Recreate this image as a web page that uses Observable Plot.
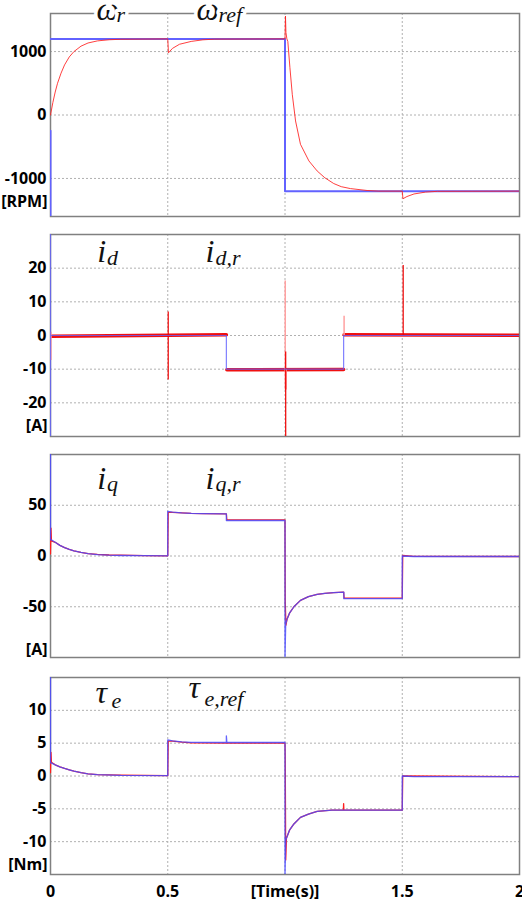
<!DOCTYPE html>
<html>
<head>
<meta charset="utf-8">
<script src="https://cdn.jsdelivr.net/npm/d3@7"></script>
<script src="https://cdn.jsdelivr.net/npm/@observablehq/plot@0.6"></script>
<style>
  html, body { margin: 0; padding: 0; background: #fff; overflow: hidden; }
  #chart { position: relative; width: 522px; height: 904px; }
  #chart > div { position: absolute; left: 0; }
</style>
</head>
<body>
<div id="chart"></div>
<script>
// ---------- Panel 1: speed [RPM] ----------
const timeWRef = [0, 0, 0, 0, 1, 1, 2];
const wRef     = [-1600, -250, null, 1200, 1200, -1200, -1200];
const timeWr = [0, 0.01, 0.02, 0.03, 0.045, 0.06, 0.08, 0.1, 0.13, 0.16, 0.2, 0.25, 0.3, 0.5, 0.503, 0.52, 0.55, 0.6, 0.65, 0.7,
                1.0, 1.002, 1.004, 1.008, 1.012, 1.021, 1.031, 1.045, 1.066, 1.102, 1.137, 1.17, 1.208, 1.24, 1.279, 1.35, 1.4, 1.5, 1.503, 1.52,
                1.55, 1.6, 1.65, 2];
const wr     = [0, 196, 362, 500, 660, 790, 915, 1000, 1085, 1135, 1168, 1186, 1194, 1200, 980, 1050, 1115, 1160, 1185, 1196,
                1200, 1560, 1300, 1200, 1160, 745, 326, -94, -462, -724, -882, -990, -1081, -1130, -1160, -1190, -1200, -1200, -1320, -1285,
                -1245, -1215, -1203, -1200];
const ticksW = [-1000, 0, 1000];

// ---------- Panel 2: i_d [A] ----------
const timeIdRef = [0, 0, 0, 0, 0.75, 0.75, 1.25, 1.25, 2];
const idRef     = [-30, 30, null, 0, 0, -10, -10, 0, 0];
const timeId = [0.004, 0.5, 0.75, 0.75, 0.752, 1.25, 1.25, 1.252, 2];
const id     = [-0.2, 0.1, 0.2, null, -10.2, -10.1, null, 0.2, 0.1];
const idRedSpikeT  = [0.502, 1.003, 1.504];
const idRedSpikeLo = [-13.2, -30, 0];
const idRedSpikeHi = [7, -4.9, 20.8];
const idPinkSpikeT  = [0.002, 1.001, 1.005, 1.252];
const idPinkSpikeLo = [-7.4, -16.2, -16.2, 0];
const idPinkSpikeHi = [1, 16.2, -10.2, 5.7];
const ticksId = [-20, -10, 0, 10, 20];

// ---------- Panel 3: i_q [A] ----------
const timeIqRef = [0, 0, 0.003, 0.02, 0.04, 0.06, 0.08, 0.1, 0.13, 0.16, 0.2, 0.25, 0.3, 0.4, 0.5, 0.5, 0.52, 0.56, 0.6, 0.65,
                   0.75, 0.75, 1.0, 1.0, 1.003, 1.009, 1.02, 1.038, 1.066, 1.1, 1.137, 1.17, 1.208, 1.251, 1.251, 1.5, 1.5, 1.55, 2];
const iqRef     = [100, 16, 16, 13.5, 10.5, 8.3, 6.6, 5.1, 3.5, 2.3, 1.4, 0.8, 0.5, 0.3, 0.2, 44, 43.3, 42.5, 42, 41.8,
                   41.6, 35, 35, -100, -67, -62, -56, -50, -43.7, -40, -37.8, -36.8, -36.1, -35.5, -42, -42, 0, -0.5, -0.5];
const timeIq = [0, 0.002, 0.004, 0.02, 0.04, 0.06, 0.08, 0.1, 0.13, 0.16, 0.2, 0.25, 0.3, 0.4, 0.5, 0.502, 0.52, 0.56, 0.6, 0.65,
                0.75, 0.752, 1.0, 1.001, 1.004, 1.009, 1.02, 1.038, 1.066, 1.1, 1.137, 1.17, 1.208, 1.25, 1.252, 1.5, 1.502, 1.55, 2];
const iq     = [2, 27.5, 15, 13.5, 10.5, 8.3, 6.6, 5.1, 3.5, 2.3, 1.6, 1.0, 0.9, 0.4, 0.2, 43, 43, 42.5, 42, 41.8,
                41.6, 35.5, 35.5, -45, -68, -62, -56, -50, -43.7, -40, -37.8, -36.8, -36.1, -35.5, -41.5, -41.5, 0.5, -0.3, -0.5];
const ticksIq = [-50, 0, 50];

// ---------- Panel 4: torque [Nm] ----------
const timeTeRef = [0, 0, 0.003, 0.02, 0.04, 0.06, 0.08, 0.1, 0.13, 0.16, 0.2, 0.3, 0.5, 0.5, 0.52, 0.56, 0.6, 0.75, 0.75, 0.752,
                   1.0, 1.0, 1.003, 1.02, 1.038, 1.066, 1.1, 1.137, 1.2, 1.5, 1.5, 1.55, 2];
const teRef     = [15, 2, 2, 1.7, 1.4, 1.15, 0.95, 0.75, 0.5, 0.33, 0.2, 0.08, 0.05, 5.5, 5.35, 5.2, 5.12, 5.1, 6.1, 5.1,
                   5.1, -15, -9.8, -8.2, -7.3, -6.3, -5.8, -5.4, -5.2, -5.2, 0, -0.1, -0.1];
const timeTe = [0, 0.002, 0.004, 0.02, 0.04, 0.06, 0.08, 0.1, 0.13, 0.16, 0.2, 0.3, 0.5, 0.502, 0.52, 0.56, 0.6, 0.75, 1.0, 1.001,
                1.003, 1.006, 1.02, 1.038, 1.066, 1.1, 1.137, 1.2, 1.249, 1.25, 1.251, 1.5, 1.502, 2];
const te     = [0.5, 3.6, 2.1, 1.7, 1.4, 1.15, 0.95, 0.75, 0.5, 0.33, 0.22, 0.12, 0.05, 5.3, 5.3, 5.15, 5.05, 5.0, 5.0, 3,
                -12.8, -9.5, -8.2, -7.3, -6.3, -5.8, -5.4, -5.2, -5.2, -4.2, -5.2, -5.2, 0, -0.1];
const ticksTe = [-10, -5, 0, 5, 10];

// ---------- shared x ----------
const timeTicks = [0, 0.5, 1, 1.5, 2];
const timeTickLabels = ["0", "0.5", "[Time(s)]", "1.5", "2"];
const gridTimes = [0.5, 1, 1.5];

const RED = "#ff1f1f";
const PINK = "#ffa0a0";
const BLUE = "#6262ff";
const FONT = "'Open Sans', sans-serif";
const MATH = "'Liberation Serif', 'Times New Roman', serif";

const pts = (t, v) => t.map((x, i) => ({t: x, v: v[i]}));
const spikes = (t, lo, hi) => t.map((x, i) => ({t: x, lo: lo[i], hi: hi[i]}));

function label(text, size, dx, dy, halo) {
  return Plot.text([text], {
    frameAnchor: "top-left", textAnchor: "start", lineAnchor: "bottom",
    dx, dy, fontFamily: MATH, fontStyle: "italic", fontWeight: "normal", fontSize: size, fill: "#111",
    ...(halo ? {stroke: "white", strokeWidth: 7} : {})
  });
}

function panel({top, height, mt, mb, domain, ticks, unit, unitDy, marks, labels, xAxis}) {
  const plot = Plot.plot({
    width: 522, height,
    marginLeft: 50, marginRight: 3, marginTop: mt, marginBottom: mb,
    style: {fontFamily: FONT, fontSize: "16px", color: "#000", background: "transparent"},
    x: {domain: [0, 2], label: null},
    y: {domain, label: null},
    marks: [
      Plot.gridX(gridTimes, {stroke: "#b0b0b0", strokeOpacity: 1, strokeDasharray: "2,2"}),
      Plot.gridY(ticks, {stroke: "#b0b0b0", strokeOpacity: 1, strokeDasharray: "2,2"}),
      Plot.frame({stroke: "#808080", strokeWidth: 1.5}),
      Plot.axisY(ticks, {tickSize: 0, tickPadding: 4, tickFormat: d => String(d), label: null, fontWeight: "bold", fontSize: 16, fill: "#000"}),
      xAxis
        ? Plot.axisX(timeTicks, {tickSize: 0, tickPadding: 11, tickFormat: (d, i) => timeTickLabels[i], label: null, fontWeight: "bold", fontSize: 16, fill: "#000"})
        : Plot.axisX([], {label: null}),
      Plot.text([unit], {frameAnchor: "bottom-left", textAnchor: "end", lineAnchor: "middle", dx: -3, dy: unitDy, fontWeight: "bold", fontSize: 16, fill: "#000"}),
      ...marks,
      ...labels
    ]
  });
  const wrap = document.createElement("div");
  wrap.style.top = top + "px";
  wrap.appendChild(plot);
  document.getElementById("chart").appendChild(wrap);
}

// Panel 1
panel({
  top: 0, height: 220, mt: 13, mb: 4, domain: [-1600, 1600], ticks: ticksW, unit: "[RPM]", unitDy: -14.3,
  marks: [
    Plot.line(pts(timeWRef, wRef), {x: "t", y: "v", stroke: BLUE, strokeWidth: 2, clip: true}),
    Plot.line(pts(timeWr, wr), {x: "t", y: "v", stroke: RED, strokeWidth: 1, strokeOpacity: 0.85, clip: true})
  ],
  labels: [
    label("ω", 32, 46, 6.5, true), label("r", 22, 66, 8, true),
    label("ω", 32, 146, 6.5, true), label("ref", 22, 168, 8, true)
  ]
});

// Panel 2
panel({
  top: 224, height: 216, mt: 10, mb: 4, domain: [-30, 30], ticks: ticksId, unit: "[A]", unitDy: -11,
  marks: [
    Plot.line(pts(timeId, id), {x: "t", y: "v", stroke: "#f01010", strokeWidth: 3.5, clip: true}),
    Plot.ruleX(spikes(idPinkSpikeT, idPinkSpikeLo, idPinkSpikeHi), {x: "t", y1: "lo", y2: "hi", stroke: PINK, strokeWidth: 1.5, clip: true}),
    Plot.ruleX(spikes(idRedSpikeT, idRedSpikeLo, idRedSpikeHi), {x: "t", y1: "lo", y2: "hi", stroke: "#f00000", strokeWidth: 1.2, clip: true}),
    Plot.line(pts(timeIdRef, idRef), {x: "t", y: "v", stroke: BLUE, strokeWidth: 1.2, strokeOpacity: 0.8, clip: true})
  ],
  labels: [
    label("i", 32, 46.7, 27.7), label("d", 22, 56.5, 30),
    label("i", 32, 155, 27.7), label("d,r", 22, 165, 30)
  ]
});

// Panel 3
panel({
  top: 444, height: 217, mt: 10, mb: 4, domain: [-100, 100], ticks: ticksIq, unit: "[A]", unitDy: -7.7,
  marks: [
    Plot.line(pts(timeIq, iq), {x: "t", y: "v", stroke: RED, strokeWidth: 1.3, clip: true}),
    Plot.line(pts(timeIqRef, iqRef), {x: "t", y: "v", stroke: "#4a4aff", strokeWidth: 1.3, strokeOpacity: 0.85, clip: true})
  ],
  labels: [
    label("i", 32, 46.7, 34.3), label("q", 22, 56.5, 36),
    label("i", 32, 155, 34.3), label("q,r", 22, 165, 36)
  ]
});

// Panel 4
panel({
  top: 667, height: 237, mt: 10, mb: 30, domain: [-15, 15], ticks: ticksTe, unit: "[Nm]", unitDy: -9.7, xAxis: true,
  marks: [
    Plot.line(pts(timeTe, te), {x: "t", y: "v", stroke: RED, strokeWidth: 1.3, clip: true}),
    Plot.line(pts(timeTeRef, teRef), {x: "t", y: "v", stroke: "#4a4aff", strokeWidth: 1.3, strokeOpacity: 0.85, clip: true})
  ],
  labels: [
    label("τ", 32, 45, 25), label("e", 22, 61, 30),
    label("τ", 32, 138, 20), label("e,ref", 22, 154, 28)
  ]
});
</script>
</body>
</html>
